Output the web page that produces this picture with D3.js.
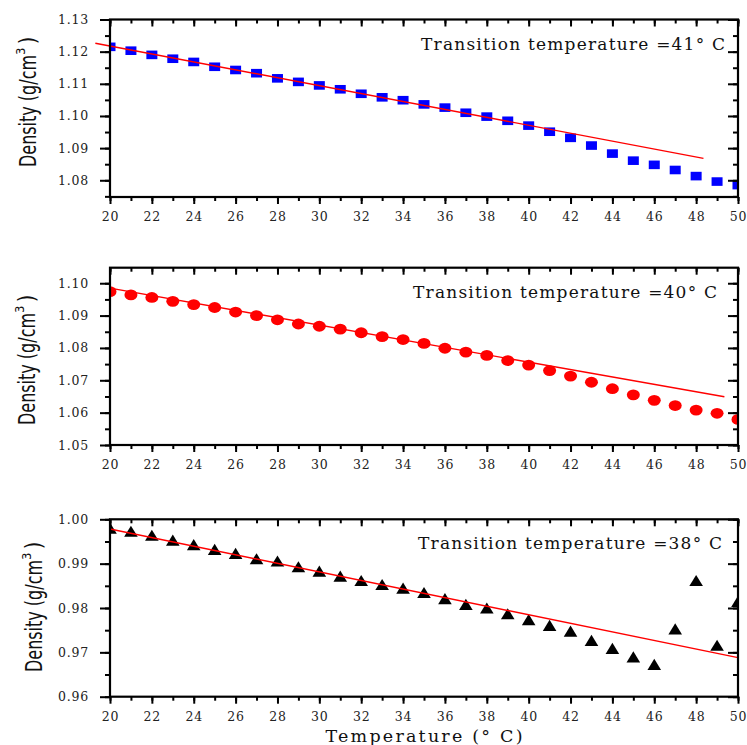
<!DOCTYPE html>
<html>
<head>
<meta charset="utf-8">
<script src="https://cdn.jsdelivr.net/npm/d3@7"></script>
<style>
  body { margin: 0; background: #fff; }
</style>
</head>
<body>
<div id="chart"></div>
<script>
// temperatures (°C) shared by all three panels
const temps = [20, 21, 22, 23, 24, 25, 26, 27, 28, 29, 30, 31, 32, 33, 34, 35,
  36, 37, 38, 39, 40, 41, 42, 43, 44, 45, 46, 47, 48, 49, 50];

// density readings (g/cm3)
const densityTop = [1.1215, 1.1203, 1.1190, 1.1178, 1.1168, 1.1153, 1.1143, 1.1133,
  1.1117, 1.1106, 1.1095, 1.1083, 1.1069, 1.1058, 1.1049, 1.1036, 1.1026, 1.1010,
  1.0998, 1.0985, 1.0970, 1.0951, 1.0932, 1.0908, 1.0883, 1.0861, 1.0848, 1.0832,
  1.0813, 1.0796, 1.0785];
const densityMid = [1.0974, 1.0964, 1.0956, 1.0944, 1.0934, 1.0925, 1.0911, 1.0900,
  1.0887, 1.0874, 1.0867, 1.0858, 1.0847, 1.0835, 1.0826, 1.0814, 1.0799, 1.0787,
  1.0777, 1.0761, 1.0747, 1.0730, 1.0713, 1.0694, 1.0674, 1.0655, 1.0638, 1.0622,
  1.0608, 1.0598, 1.0579];
const densityBot = [0.9980, 0.9973, 0.9964, 0.9953, 0.9943, 0.9932, 0.9923, 0.9911,
  0.9906, 0.9893, 0.9883, 0.9872, 0.9862, 0.9853, 0.9845, 0.9835, 0.9821, 0.9808,
  0.9800, 0.9787, 0.9774, 0.9761, 0.9748, 0.9727, 0.9709, 0.9690, 0.9673, 0.9753,
  0.9862, 0.9716, 0.9815];

// linear fits (start/end)
const fitTopT = [19.3, 48.35], fitTopD = [1.1226, 1.0868];
const fitMidT = [20, 49.35], fitMidD = [1.0985, 1.0649];
const fitBotT = [20, 50], fitBotD = [0.9978, 0.9688];

const notes = ["Transition temperature =41° C", "Transition temperature =40° C", "Transition temperature =38° C"];

const xTicks = [20, 22, 24, 26, 28, 30, 32, 34, 36, 38, 40, 42, 44, 46, 48, 50];
const yTicksTop = [1.08, 1.09, 1.10, 1.11, 1.12, 1.13];
const yTicksMid = [1.05, 1.06, 1.07, 1.08, 1.09, 1.10];
const yTicksBot = [0.96, 0.97, 0.98, 0.99, 1.00];

const W = 747, H = 745;
const left = 110, right = 738;
const serif = "'DejaVu Serif', 'Liberation Serif', serif";
const narrow = "'Liberation Sans Narrow', 'DejaVu Sans Condensed', 'Roboto Condensed', 'Liberation Sans', sans-serif";

const svg = d3.select("#chart").append("svg")
  .attr("width", W)
  .attr("height", H);

const x = d3.scaleLinear().domain([20, 50]).range([left, right]);
const xMinor = d3.range(20, 51, 1);

const panels = [
  { top: 19.5, bottom: 197, domain: [1.0748, 1.13], ticks: yTicksTop, values: densityTop,
    fitT: fitTopT, fitD: fitTopD, shape: "square", color: "#0000ff", note: notes[0],
    noteX: 421, labelX: 36, labelY: 167 },
  { top: 267.7, bottom: 445, domain: [1.05, 1.1048], ticks: yTicksMid, values: densityMid,
    fitT: fitMidT, fitD: fitMidD, shape: "circle", color: "#ff0000", note: notes[1],
    noteX: 413, labelX: 35, labelY: 425 },
  { top: 519.3, bottom: 696.7, domain: [0.96, 1.00], ticks: yTicksBot, values: densityBot,
    fitT: fitBotT, fitD: fitBotD, shape: "triangle", color: "#000000", note: notes[2],
    noteX: 418, labelX: 42, labelY: 672 }
];

panels.forEach((p, i) => {
  const y = d3.scaleLinear().domain(p.domain).range([p.bottom, p.top]);
  const g = svg.append("g");

  g.append("clipPath").attr("id", "clip" + i)
    .append("rect")
    .attr("x", left).attr("y", p.top)
    .attr("width", right - left).attr("height", p.bottom - p.top);

  const pts = temps.map((t, k) => ({ t, v: p.values[k] }));
  const marks = g.append("g").attr("clip-path", `url(#clip${i})`).attr("fill", p.color);

  if (p.shape === "square") {
    marks.selectAll("rect").data(pts).join("rect")
      .attr("x", d => x(d.t) - 5.5)
      .attr("y", d => y(d.v) - 4.3)
      .attr("width", 11)
      .attr("height", 8.6);
  } else if (p.shape === "circle") {
    marks.selectAll("ellipse").data(pts).join("ellipse")
      .attr("cx", d => x(d.t))
      .attr("cy", d => y(d.v))
      .attr("rx", 6.5)
      .attr("ry", 5.4);
  } else {
    marks.selectAll("path").data(pts).join("path")
      .attr("d", d => {
        const cx = x(d.t), cy = y(d.v);
        return `M${cx},${cy - 5.6}L${cx + 6.8},${cy + 5.6}L${cx - 6.8},${cy + 5.6}Z`;
      });
  }

  // fit line
  g.append("path")
    .datum(p.fitT.map((t, k) => [t, p.fitD[k]]))
    .attr("d", d3.line().x(d => x(d[0])).y(d => y(d[1])))
    .attr("fill", "none")
    .attr("stroke", "#ff0000")
    .attr("stroke-width", 1.4);

  const yMinor = d3.range(Math.ceil(p.domain[0] / 0.005) * 0.005, p.domain[1] + 1e-9, 0.005);

  const styleAxis = sel => {
    sel.select(".domain").remove();
    sel.selectAll("line").attr("stroke", "#000").attr("stroke-width", 2);
    sel.selectAll("text")
      .attr("font-family", serif)
      .attr("font-size", 12.5)
      .attr("letter-spacing", 0.8)
      .attr("fill", "#222");
  };

  // left (outward)
  g.append("g").attr("transform", `translate(${left},0)`)
    .call(d3.axisLeft(y).tickValues(yMinor).tickSize(5).tickFormat(""))
    .call(styleAxis);
  g.append("g").attr("transform", `translate(${left},0)`)
    .call(d3.axisLeft(y).tickValues(p.ticks).tickSize(10).tickPadding(11).tickFormat(d3.format(".2f")))
    .call(styleAxis);
  // right (inward)
  g.append("g").attr("transform", `translate(${right},0)`)
    .call(d3.axisRight(y).tickValues(yMinor).tickSize(-5).tickFormat(""))
    .call(styleAxis);
  g.append("g").attr("transform", `translate(${right},0)`)
    .call(d3.axisRight(y).tickValues(p.ticks).tickSize(-10).tickFormat(""))
    .call(styleAxis);
  // bottom (outward)
  g.append("g").attr("transform", `translate(0,${p.bottom})`)
    .call(d3.axisBottom(x).tickValues(xMinor).tickSize(4).tickFormat(""))
    .call(styleAxis);
  g.append("g").attr("transform", `translate(0,${p.bottom})`)
    .call(d3.axisBottom(x).tickValues(xTicks).tickSize(7).tickPadding(8).tickFormat(d3.format("d")))
    .call(styleAxis);
  // top (inward)
  g.append("g").attr("transform", `translate(0,${p.top})`)
    .call(d3.axisTop(x).tickValues(xMinor).tickSize(-4).tickFormat(""))
    .call(styleAxis);
  g.append("g").attr("transform", `translate(0,${p.top})`)
    .call(d3.axisTop(x).tickValues(xTicks).tickSize(-7).tickFormat(""))
    .call(styleAxis);

  // frame
  g.append("rect")
    .attr("x", left).attr("y", p.top)
    .attr("width", right - left).attr("height", p.bottom - p.top)
    .attr("fill", "none")
    .attr("stroke", "#000")
    .attr("stroke-width", 2.2);

  // annotation
  g.append("text")
    .attr("x", p.noteX)
    .attr("y", p.top + 30)
    .attr("font-family", serif)
    .attr("font-size", 17)
    .attr("fill", "#111")
    .attr("textLength", 304)
    .attr("lengthAdjust", "spacing")
    .text(p.note);

  // y label
  const lab = g.append("text")
    .attr("transform", `translate(${p.labelX},${p.labelY}) rotate(-90)`)
    .attr("font-family", narrow)
    .attr("font-size", 23)
    .attr("fill", "#111");
  lab.append("tspan")
    .attr("textLength", 112)
    .attr("lengthAdjust", "spacingAndGlyphs")
    .text("Density (g/cm");
  lab.append("tspan").attr("dy", -11).attr("font-size", 13).text("3");
  lab.append("tspan").attr("dy", 11).attr("dx", 3).text(")");
});

svg.append("text")
  .attr("x", (left + right) / 2)
  .attr("y", 742)
  .attr("text-anchor", "middle")
  .attr("font-family", serif)
  .attr("font-size", 17.5)
  .attr("fill", "#111")
  .attr("textLength", 197)
  .attr("lengthAdjust", "spacing")
  .text("Temperature (° C)");
</script>
</body>
</html>
